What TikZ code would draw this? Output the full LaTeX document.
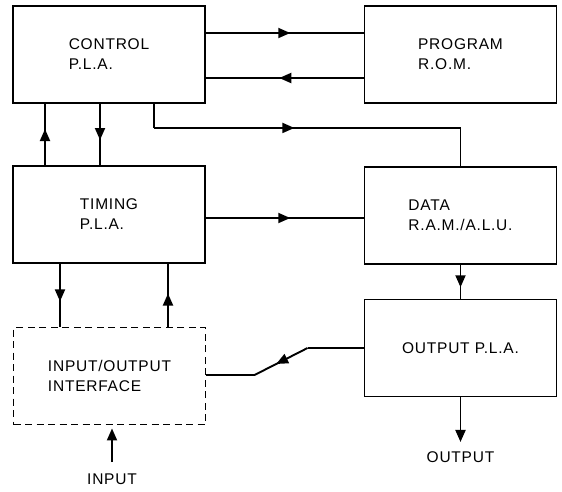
\documentclass[tikz,border=0pt]{standalone}
\usepackage{fontspec}
\setmainfont{Liberation Sans}[LetterSpace=5]
\usetikzlibrary{arrows.meta,decorations.markings}

\begin{document}
\begin{tikzpicture}[
  x=1pt, y=-1pt,
  every node/.style={font=\fontsize{15.5}{20}\selectfont},
  blk/.style={draw,line width=1.9pt,minimum width=192pt,minimum height=97pt,align=left,inner sep=0pt},
  wire/.style={line width=1.9pt},
  midarrow/.style={postaction={decorate},decoration={markings,
    mark=at position #1 with {\arrow[xshift=5.5pt]{Triangle[length=12pt,width=10pt]}}}},
  midarrow/.default=0.5,
  endarrow/.style={-{Triangle[length=12pt,width=10pt]}}
]
\useasboundingbox (0,0) rectangle (562,491);
% blocks
\node[blk] (ctrl) at (109,54.5) {CONTROL\\P.L.A.};
\node[blk] (rom) at (460.5,54.5) {PROGRAM\\R.O.M.};
\node[blk] (timing) at (109,214.5) {TIMING\\P.L.A.};
\node[blk] (data) at (460.5,215.5) {DATA\\R.A.M./A.L.U.};
\node[blk] (outpla) at (460.5,348) {OUTPUT P.L.A.};
\node[blk,dash pattern=on 7pt off 4.5pt] (io) at (109.5,376) {INPUT/OUTPUT\\INTERFACE};
\node (outtxt) at (460.5,457) {OUTPUT};
\node (intxt) at (112,479) {INPUT};
% control <-> rom
\coordinate (p1) at ([yshift=21.5pt]ctrl.east);
\coordinate (p2) at ([yshift=-23.5pt]ctrl.east);
\draw[wire,midarrow] (p1) -- (p1 -| rom.west);
\draw[wire,midarrow] (p2 -| rom.west) -- (p2);
% control <-> timing
\coordinate (v1) at ([xshift=-64pt]timing.north);
\coordinate (v2) at ([xshift=-9pt]ctrl.south);
\draw[wire,midarrow] (v1) -- (v1 |- ctrl.south);
\draw[wire,midarrow] (v2) -- (v2 |- timing.north);
% control -> data
\coordinate (c0) at ([xshift=45pt]ctrl.south);
\draw[wire] (c0) -- ++(0,24) coordinate (c1);
\draw[wire,midarrow=0.44] (c1) -- (c1 -| data.north) coordinate (c2);
\draw[wire] (c2) -- (data.north);
% timing -> data
\coordinate (t1) at ([yshift=-3.5pt]timing.east);
\draw[wire,midarrow] (t1) -- (t1 -| data.west);
% timing <-> interface
\coordinate (t2) at ([xshift=-49pt]timing.south);
\coordinate (t3) at ([xshift=59pt]timing.south);
\draw[wire,midarrow=0.51] (t2) -- (t2 |- io.north);
\draw[wire,midarrow=0.44] (t3 |- io.north) -- (t3);
% data -> output pla -> output
\draw[wire,midarrow] (data.south) -- (data.south |- outpla.north);
\coordinate (o1) at ([yshift=6pt]outtxt.north);
\draw[wire,endarrow] (outpla.south) -- (outpla.south |- o1);
% output pla -> interface
\coordinate (k1) at ([xshift=-56pt]outpla.west);
\coordinate (k2) at ([xshift=-53pt,yshift=-27pt]k1);
\draw[wire] (outpla.west) -- (k1);
\draw[wire,midarrow] (k1) -- (k2);
\draw[wire] (k2) -- (k2 -| io.east);
% input
\coordinate (i1) at ([yshift=8pt]intxt.north);
\draw[wire,endarrow,shorten >=3pt] (i1) -- (i1 |- io.south);
\end{tikzpicture}
\end{document}
